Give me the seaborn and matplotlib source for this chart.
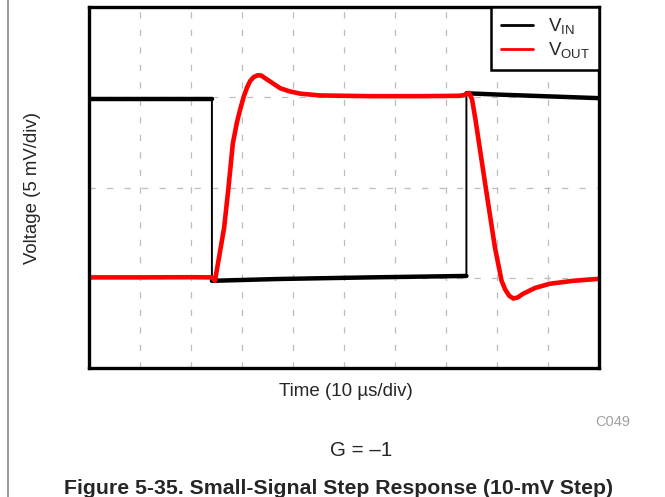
import matplotlib
matplotlib.use("Agg")
import matplotlib.pyplot as plt
import seaborn as sns
import pandas as pd
from matplotlib.lines import Line2D

sns.set_theme(style="white")
plt.rcParams['font.family'] = ['Liberation Sans', 'DejaVu Sans']
plt.rcParams['mathtext.fontset'] = 'custom'
plt.rcParams['mathtext.rm'] = 'Liberation Sans'
plt.rcParams['mathtext.it'] = 'Liberation Sans:italic'

# ---- data (time in us, voltage in mV) ----
vin_t = [0, 24.1, 24.1, 37.0, 55.0, 74.0, 74.0, 80.0, 90.0, 100.0]
vin_v = [14.88, 14.88, 4.83, 4.93, 5.02, 5.10, 15.22, 15.15, 15.05, 14.95]

vout_t = [0, 10, 20, 24.1, 24.7, 25.6, 26.5, 27.35, 28.2, 29.0, 29.6, 30.3, 31.0,
          31.6, 32.3, 33.1, 33.8, 34.5, 35.8, 37.5, 39.3, 41.4, 45.3, 55, 65,
          72.5, 73.6, 74.5, 75.1, 75.8, 77.8, 79.6, 80.9, 81.6, 82.4, 83.2, 84.0,
          85.1, 87.5, 90.4, 94.9, 100]
vout_v = [5.02, 5.02, 5.03, 5.02, 4.83, 6.3, 7.78, 10.0, 12.44, 13.6, 14.28, 15.0,
          15.55, 15.9, 16.12, 16.22, 16.2, 16.06, 15.82, 15.5, 15.33, 15.2, 15.1,
          15.06, 15.06, 15.08, 15.12, 15.24, 14.9, 13.72, 9.98, 6.67, 4.83, 4.35,
          4.0, 3.85, 3.9, 4.11, 4.44, 4.67, 4.83, 4.94]

x_ticks = list(range(0, 101, 10))
y_ticks = [0, 5, 10, 15, 20]

df_in = pd.DataFrame({"t": vin_t, "v": vin_v})
df_out = pd.DataFrame({"t": vout_t, "v": vout_v})

fig = plt.figure(figsize=(6.65, 4.97), dpi=100)
ax = fig.add_axes([89/665, 1-368/497, 510/665, 361/497])

ax.set_xlim(0, 100)
ax.set_ylim(0, 20)
ax.set_xticks(x_ticks)
ax.set_yticks(y_ticks)
ax.grid(True, color="#bdbdbd", linewidth=0.9, linestyle=(0, (5, 9)))
ax.tick_params(length=0, labelbottom=False, labelleft=False)

# VIN: thin vertical edges, thicker (noisy) flat levels
sns.lineplot(data=df_in, x="t", y="v", ax=ax, color="black", linewidth=1.4,
             sort=False, estimator=None, legend=False)
for a, b in [(0, 2), (2, 6), (6, 10)]:
    sns.lineplot(data=df_in.iloc[a:b], x="t", y="v", ax=ax, color="black",
                 linewidth=3.2, sort=False, estimator=None, legend=False)
# VOUT
sns.lineplot(data=df_out, x="t", y="v", ax=ax, color="#ff0000", linewidth=3.3,
             sort=False, estimator=None, legend=False)

ax.set_xlabel("")
ax.set_ylabel("")
for s in ax.spines.values():
    s.set_visible(True)
    s.set_color("black")
    s.set_linewidth(2.4)

handles = [Line2D([], [], color="black", lw=2.0), Line2D([], [], color="#ff0000", lw=2.0)]
leg = ax.legend(handles, [r"$\mathrm{V}_{\mathrm{IN}}$", r"$\mathrm{V}_{\mathrm{OUT}}$"],
                loc="upper right", borderaxespad=0, fancybox=False, fontsize=13.5,
                handlelength=1.7, handletextpad=0.8, labelspacing=0.2,
                borderpad=0.5, framealpha=1)
leg.get_frame().set_edgecolor("black")
leg.get_frame().set_linewidth(1.8)

fig.text(33/665, 1-188/497, "Voltage (5 mV/div)", rotation=90, ha="center",
         va="center", fontsize=13.4)
fig.text(346/665, 1-392/497, "Time (10 \u00b5s/div)", ha="center", va="center",
         fontsize=13.5)
fig.text(613/665, 1-422/497, "C049", ha="center", va="center", fontsize=10.5,
         color="#a0a0a0")
fig.text(361/665, 1-450/497, "G = \u20131", ha="center", va="center", fontsize=14.8)
fig.text(338/665, 1-488/497, "Figure 5-35. Small-Signal Step Response (10-mV Step)",
         ha="center", va="center", fontsize=15.3, fontweight="bold")

fig.add_artist(Line2D([8/665, 8/665], [0, 1], color="#888888", lw=1.2,
                      transform=fig.transFigure))

fig.savefig("out.png", dpi=100)
